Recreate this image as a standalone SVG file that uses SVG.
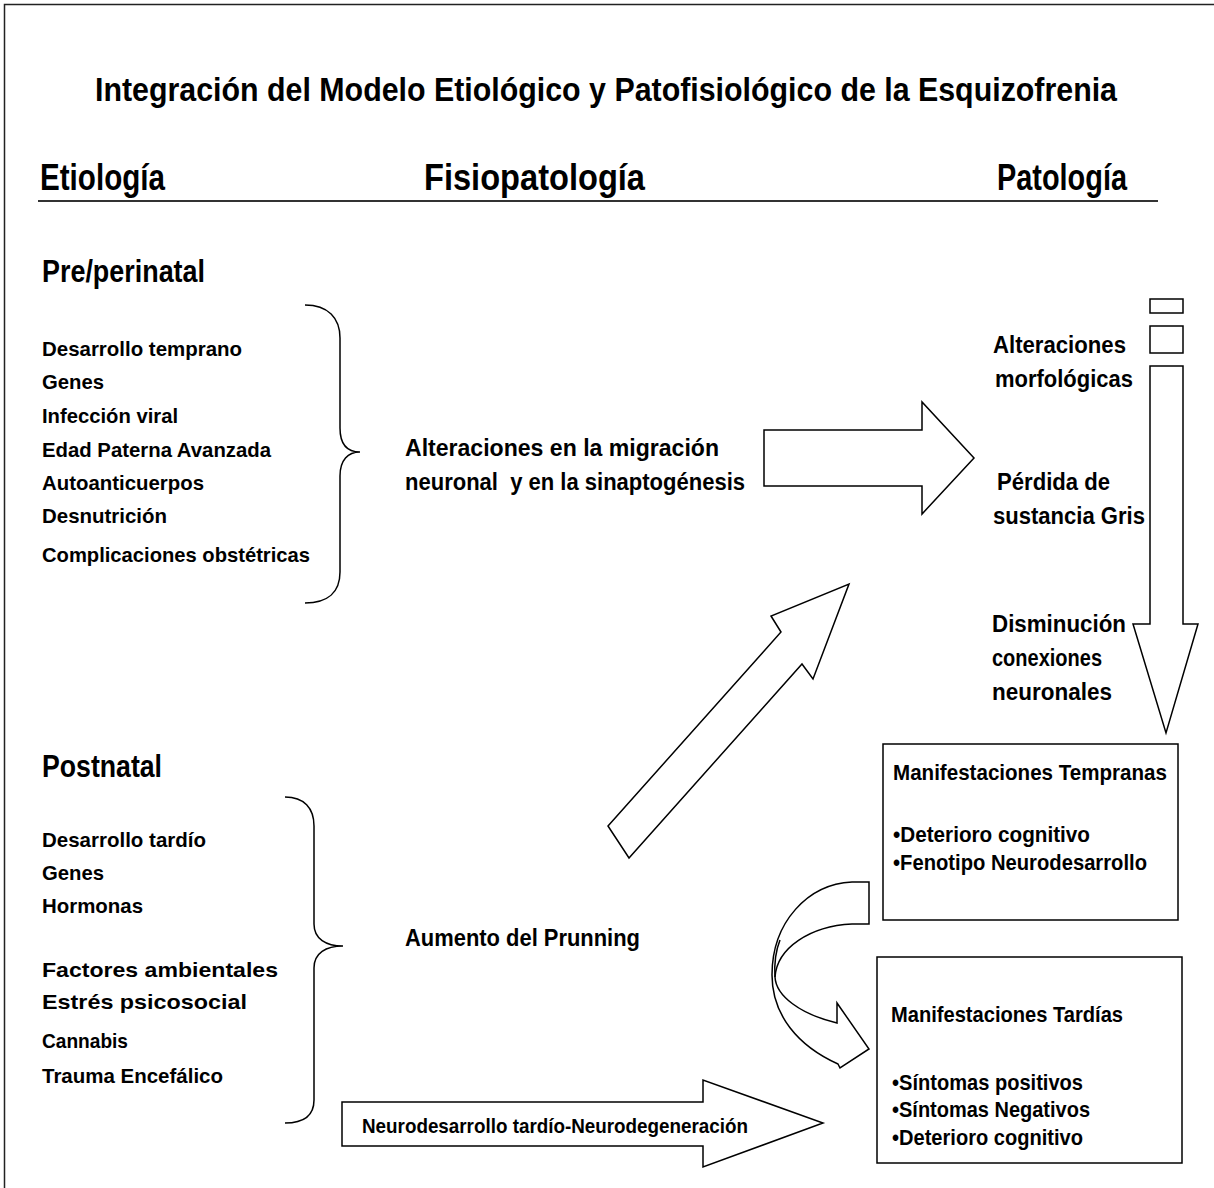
<svg xmlns="http://www.w3.org/2000/svg" width="1214" height="1188" viewBox="0 0 1214 1188">
<style>
text{font-family:"Liberation Sans",Arial,sans-serif;font-weight:bold;fill:#000}
.t{font-size:33px}
.h{font-size:37px}
.s{font-size:31px}
.i{font-size:21px}
.m{font-size:23px}
.r{font-size:22px}
.shape{fill:#fff;stroke:#000;stroke-width:1.5;stroke-linejoin:miter}
.brace{fill:none;stroke:#000;stroke-width:1.5}
</style>
<rect x="0" y="0" width="1214" height="1188" fill="#fff"/>
<rect x="4.5" y="4.5" width="1220" height="1200" fill="none" stroke="#222" stroke-width="1.5"/>
<g id="title">
<text class="t" x="95" y="101" textLength="1022" lengthAdjust="spacingAndGlyphs">Integración del Modelo Etiológico y Patofisiológico de la Esquizofrenia</text>
</g>
<g id="headers">
<text class="h" x="40" y="190" textLength="125" lengthAdjust="spacingAndGlyphs">Etiología</text>
<text class="h" x="424" y="190" textLength="221" lengthAdjust="spacingAndGlyphs">Fisiopatología</text>
<text class="h" x="997" y="190" textLength="130" lengthAdjust="spacingAndGlyphs">Patología</text>
<line x1="38" y1="201" x2="1158" y2="201" stroke="#333" stroke-width="2"/>
</g>
<g id="preperinatal">
<text class="s" x="42" y="282" textLength="163" lengthAdjust="spacingAndGlyphs">Pre/perinatal</text>
<text class="i" x="42" y="356" textLength="200" lengthAdjust="spacingAndGlyphs">Desarrollo temprano</text>
<text class="i" x="42" y="389" textLength="62" lengthAdjust="spacingAndGlyphs">Genes</text>
<text class="i" x="42" y="423" textLength="136" lengthAdjust="spacingAndGlyphs">Infección viral</text>
<text class="i" x="42" y="457" textLength="229" lengthAdjust="spacingAndGlyphs">Edad Paterna Avanzada</text>
<text class="i" x="42" y="490" textLength="162" lengthAdjust="spacingAndGlyphs">Autoanticuerpos</text>
<text class="i" x="42" y="523" textLength="125" lengthAdjust="spacingAndGlyphs">Desnutrición</text>
<text class="i" x="42" y="562" textLength="268" lengthAdjust="spacingAndGlyphs">Complicaciones obstétricas</text>
<path class="brace" d="M305,305 C328,305 340,318 340,338 L340,428 C340,445 348,452 360,452 C348,452 340,460 340,476 L340,572 C340,592 328,603 305,603"/>
</g>
<g id="postnatal">
<text class="s" x="42" y="777" textLength="120" lengthAdjust="spacingAndGlyphs">Postnatal</text>
<text class="i" x="42" y="847" textLength="164" lengthAdjust="spacingAndGlyphs">Desarrollo tardío</text>
<text class="i" x="42" y="880" textLength="62" lengthAdjust="spacingAndGlyphs">Genes</text>
<text class="i" x="42" y="913" textLength="101" lengthAdjust="spacingAndGlyphs">Hormonas</text>
<text class="i" x="42" y="977" textLength="236" lengthAdjust="spacingAndGlyphs">Factores ambientales</text>
<text class="i" x="42" y="1009" textLength="205" lengthAdjust="spacingAndGlyphs">Estrés psicosocial</text>
<text class="i" x="42" y="1048" textLength="86" lengthAdjust="spacingAndGlyphs">Cannabis</text>
<text class="i" x="42" y="1083" textLength="181" lengthAdjust="spacingAndGlyphs">Trauma Encefálico</text>
<path class="brace" d="M285,797 C304,797 314,808 314,826 L314,924 C314,939 326,946 343,946 C326,946 314,953 314,968 L314,1100 C314,1115 304,1123 285,1123"/>
</g>
<g id="fisiopatologia">
<text class="m" x="405" y="456" textLength="314" lengthAdjust="spacingAndGlyphs">Alteraciones en la migración</text>
<text class="m" x="405" y="490" textLength="340" lengthAdjust="spacingAndGlyphs" xml:space="preserve">neuronal  y en la sinaptogénesis</text>
<text class="m" x="405" y="946" textLength="235" lengthAdjust="spacingAndGlyphs">Aumento del Prunning</text>
</g>
<g id="patologia">
<text class="m" x="993" y="353" textLength="133" lengthAdjust="spacingAndGlyphs">Alteraciones</text>
<text class="m" x="995" y="387" textLength="138" lengthAdjust="spacingAndGlyphs">morfológicas</text>
<text class="m" x="997" y="490" textLength="113" lengthAdjust="spacingAndGlyphs">Pérdida de</text>
<text class="m" x="993" y="524" textLength="152" lengthAdjust="spacingAndGlyphs">sustancia Gris</text>
<text class="m" x="992" y="632" textLength="134" lengthAdjust="spacingAndGlyphs">Disminución</text>
<text class="m" x="992" y="666" textLength="110" lengthAdjust="spacingAndGlyphs">conexiones</text>
<text class="m" x="992" y="700" textLength="120" lengthAdjust="spacingAndGlyphs">neuronales</text>
</g>
<g id="manifestaciones-tempranas">
<rect class="shape" x="883" y="744" width="295" height="176"/>
<text class="r" x="893" y="780" textLength="274" lengthAdjust="spacingAndGlyphs">Manifestaciones Tempranas</text>
<text class="r" x="893" y="842" textLength="197" lengthAdjust="spacingAndGlyphs">•Deterioro cognitivo</text>
<text class="r" x="893" y="870" textLength="254" lengthAdjust="spacingAndGlyphs">•Fenotipo Neurodesarrollo</text>
</g>
<g id="manifestaciones-tardias">
<rect class="shape" x="877" y="957" width="305" height="206"/>
<text class="r" x="891" y="1022" textLength="232" lengthAdjust="spacingAndGlyphs">Manifestaciones Tardías</text>
<text class="r" x="892" y="1090" textLength="191" lengthAdjust="spacingAndGlyphs">•Síntomas positivos</text>
<text class="r" x="892" y="1117" textLength="198" lengthAdjust="spacingAndGlyphs">•Síntomas Negativos</text>
<text class="r" x="892" y="1145" textLength="191" lengthAdjust="spacingAndGlyphs">•Deterioro cognitivo</text>
</g>
<g id="connectors">
<rect class="shape" x="1150" y="299" width="33" height="14"/>
<rect class="shape" x="1150" y="326" width="33" height="27"/>
<path class="shape" d="M1150,366 L1183,366 L1183,624 L1198,624 L1166,733 L1133,624 L1150,624 Z"/>
<path class="shape" d="M764,430 L922,430 L922,402 L974,458 L922,514 L922,486 L764,486 Z"/>
<path class="shape" d="M608,826 L781,632 L771,616 L849,584 L813,679 L802,664 L629,858 Z"/>
<path class="shape" d="M342,1102 L703,1102 L703,1080 L823,1123 L703,1167 L703,1146 L342,1146 Z"/>
<text class="i" x="362" y="1133" textLength="386" lengthAdjust="spacingAndGlyphs">Neurodesarrollo tardío-Neurodegeneración</text>
<path class="shape" d="M869,882 L869,924 L852,924 C810,926 777,948 775,977 C776,996 800,1014 837,1023 L837,1003 L869,1049 L840,1068 L838,1064 C798,1046 772,1015 772,975 C772,922 808,884 852,882 Z"/>
<path class="brace" d="M775,977 C774,962 776,950 780,940"/>
</g>
</svg>
